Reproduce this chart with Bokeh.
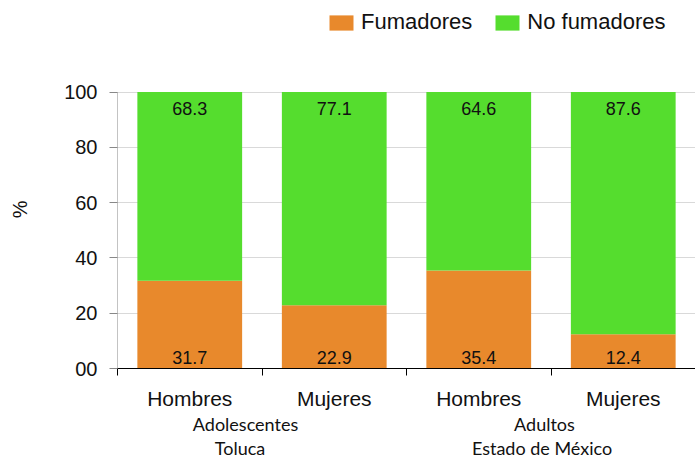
from bokeh.plotting import figure
from bokeh.models import ColumnDataSource, Range1d, FixedTicker, Legend, LegendItem, LinearAxis
from bokeh.core.properties import value
from bokeh.embed import file_html
from bokeh.resources import INLINE

categories = ["Hombres", "Mujeres", "Hombres", "Mujeres"]
fumadores = [31.7, 22.9, 35.4, 12.4]
no_fumadores = [68.3, 77.1, 64.6, 87.6]
groups = ["Adolescentes", "Adultos"]
places = ["Toluca", "Estado de México"]
y_ticks = [0, 20, 40, 60, 80, 100]
y_tick_labels = ["00", "20", "40", "60", "80", "100"]

ORANGE = "#E8892C"
GREEN = "#55DD2E"
FONT = "Liberation Sans"
GFONT = "Lato"

xs = [i + 0.5 for i in range(len(categories))]
src = ColumnDataSource(dict(
    x=xs, fum=fumadores, nof=no_fumadores,
    fum_lbl=[f"{v:.1f}" for v in fumadores],
    nof_lbl=[f"{v:.1f}" for v in no_fumadores],
    top=[100.0] * len(xs), bottom=[0.0] * len(xs),
))

# frame spans from canvas y=0 (top) to y=370 (value 0); value 100 sits at y=92
Y_TOP = 100 * 370 / (370 - 92)

p = figure(width=695, height=461, output_backend="svg", toolbar_location=None,
           x_range=Range1d(0, 4), y_range=Range1d(0, Y_TOP),
           min_border_left=117, min_border_right=0, min_border_top=0,
           min_border_bottom=91)
p.outline_line_color = None
p.xgrid.grid_line_color = None
p.ygrid.grid_line_color = "#d9d9d9"
p.ygrid.ticker = FixedTicker(ticks=y_ticks)

rs = p.vbar_stack(["fum", "nof"], x="x", width=0.725, source=src,
                  color=[ORANGE, GREEN], line_color=None)

p.text(x="x", y="top", text="nof_lbl", source=src, text_align="center",
       text_baseline="top", y_offset=10, text_font=value(FONT),
       text_font_size="18px", text_color="#111111")
p.text(x="x", y="bottom", text="fum_lbl", source=src, text_align="center",
       text_baseline="bottom", y_offset=-5, text_font=value(FONT),
       text_font_size="18px", text_color="#111111")

# y axis line only between 0 and 100
p.segment(x0=[0], y0=[0], x1=[0], y1=[100], line_color="#888888", line_width=1)

ya = p.yaxis[0]
ya.ticker = FixedTicker(ticks=y_ticks)
ya.major_label_overrides = {t: l for t, l in zip(y_ticks, y_tick_labels)}
ya.axis_line_color = None
ya.major_tick_line_color = "#888888"
ya.major_tick_out = 8
ya.major_tick_in = 0
ya.minor_tick_line_color = None
ya.major_label_standoff = 12
ya.major_label_text_font = FONT
ya.major_label_text_font_size = "20px"
ya.major_label_text_color = "#111111"

# "%" label as a tick label of an extra left axis
pct_y = 57.6
ya2 = LinearAxis(ticker=FixedTicker(ticks=[pct_y]), major_label_overrides={pct_y: "%"},
                 axis_line_color=None, major_tick_line_color=None, major_tick_out=0,
                 minor_tick_line_color=None, minor_tick_out=0,
                 major_label_orientation="vertical",
                 major_label_standoff=30, major_label_text_font=FONT,
                 major_label_text_font_size="20px", major_label_text_color="#111111")
p.add_layout(ya2, "left")

# x axis
xa = p.xaxis[0]
xa.ticker = FixedTicker(ticks=xs, minor_ticks=[0, 1, 2, 3, 4])
xa.major_label_overrides = {x: c for x, c in zip(xs, categories)}
xa.axis_line_color = "black"
xa.major_tick_line_color = None
xa.minor_tick_line_color = "black"
xa.minor_tick_out = 7
xa.minor_tick_in = 0
xa.major_label_standoff = 11
xa.major_label_text_font = FONT
xa.major_label_text_font_size = "21px"
xa.major_label_text_color = "#111111"

# group label rows
gx = [0.886, 2.955]
px_ = [0.848, 2.938]
for names, pos, stand in ((groups, gx, 0), (places, px_, -1)):
    ax = LinearAxis(ticker=FixedTicker(ticks=pos),
                    major_label_overrides={x: n for x, n in zip(pos, names)},
                    axis_line_color=None, major_tick_line_color=None, major_tick_out=0,
                    minor_tick_line_color=None, minor_tick_out=0, major_label_standoff=stand,
                    major_label_text_font=GFONT, major_label_text_font_size="18px",
                    major_label_text_color="#111111")
    p.add_layout(ax, "below")

legend = Legend(items=[LegendItem(label="Fumadores", renderers=[rs[0]]),
                       LegendItem(label="No fumadores", renderers=[rs[1]])],
                orientation="horizontal", location=(209, 333),
                padding=0, margin=0, spacing=20, label_standoff=5,
                glyph_width=30, glyph_height=19,
                label_text_font=FONT, label_text_font_size="22px",
                label_text_color="#111111",
                border_line_color=None, background_fill_alpha=0)
p.add_layout(legend)

open("out.html", "w").write(file_html(p, INLINE))
